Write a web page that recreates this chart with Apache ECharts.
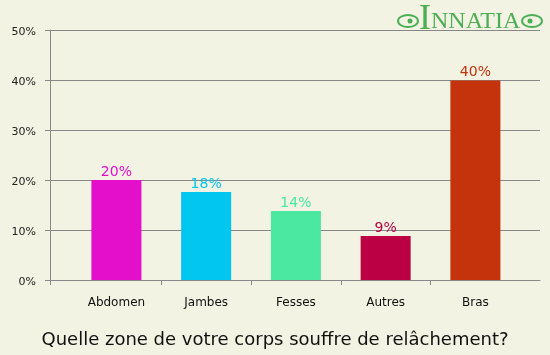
<!DOCTYPE html>
<html><head><meta charset="utf-8">
<script src="https://cdn.jsdelivr.net/npm/echarts@6/dist/echarts.min.js"></script>
<style>html,body{margin:0;padding:0;background:#F3F3E3;}#c{width:550px;height:355px;}</style>
</head><body><div id="c"></div>
<script>
const categories = ['Abdomen', 'Jambes', 'Fesses', 'Autres', 'Bras'];
const values = [20, 17.6, 13.8, 8.8, 39.9];
const colors = ['#E30FCB', '#00C6F0', '#4AE8A0', '#BB0044', '#C4330C'];
const yTicks = [0, 10, 20, 30, 40, 50];
const titleText = 'Quelle zone de votre corps souffre de relâchement?';

const xMin = -0.74, xMax = 4.72;
const boundaries = [xMin].concat(categories.slice(1).map((c, i) => i + 0.5));

const chart = echarts.init(document.getElementById('c'), null, {renderer: 'canvas'});
chart.setOption({
  backgroundColor: '#F3F3E3',
  animation: false,
  title: {
    text: titleText, left: 'center', top: 326,
    textStyle: {fontFamily: 'DejaVu Sans', fontSize: 18, fontWeight: 'normal', color: '#111'}
  },
  grid: {left: 50, right: 10, top: 30, bottom: 75},
  xAxis: {
    type: 'value', min: xMin, max: xMax,
    splitLine: {show: false},
    axisLine: {show: true, onZero: false, lineStyle: {color: '#888', width: 1}},
    axisTick: {show: true, length: 5, customValues: boundaries, lineStyle: {color: '#888'}},
    axisLabel: {
      show: true, customValues: categories.map((c, i) => i), margin: 17,
      fontFamily: 'DejaVu Sans', fontSize: 12, color: '#111',
      formatter: v => categories[Math.round(v)]
    }
  },
  yAxis: {
    type: 'value', min: yTicks[0], max: yTicks[yTicks.length - 1], interval: 10,
    axisLine: {show: true, onZero: false, lineStyle: {color: '#888'}},
    axisTick: {show: true, length: 5, lineStyle: {color: '#888'}},
    splitLine: {show: true, lineStyle: {color: '#888', width: 1}},
    axisLabel: {
      margin: 14, fontFamily: 'DejaVu Sans', fontSize: 11, color: '#222',
      formatter: '{a|{value}%}',
      rich: {a: {fontFamily: 'DejaVu Sans', fontSize: 11, color: '#222', padding: [5, 0, 0, 0]}}
    }
  },
  series: [{
    type: 'bar', barWidth: 50,
    data: values.map((v, i) => ({
      value: [i, v],
      itemStyle: {color: colors[i]},
      label: {color: colors[i]}
    })),
    label: {
      show: true, position: 'top', distance: 1,
      fontFamily: 'DejaVu Sans', fontSize: 14,
      formatter: p => Math.round(p.value[1]) + '%'
    }
  }],
  graphic: [
    {type: 'text', left: 419, top: 2, style: {text: 'I', font: '36px "Liberation Serif"', fill: '#4DAF55'}},
    {type: 'text', left: 431, top: 10, style: {text: 'NNATIA', font: '24px "Liberation Serif"', fill: '#4DAF55'}},
    {type: 'ellipse', shape: {cx: 408, cy: 21, rx: 10, ry: 6}, style: {fill: 'none', stroke: '#4DAF55', lineWidth: 2}},
    {type: 'circle', shape: {cx: 410, cy: 21, r: 2.5}, style: {fill: '#4DAF55'}},
    {type: 'ellipse', shape: {cx: 532, cy: 21, rx: 10, ry: 6}, style: {fill: 'none', stroke: '#4DAF55', lineWidth: 2}},
    {type: 'circle', shape: {cx: 530, cy: 21, r: 2.5}, style: {fill: '#4DAF55'}}
  ]
});
</script></body></html>
